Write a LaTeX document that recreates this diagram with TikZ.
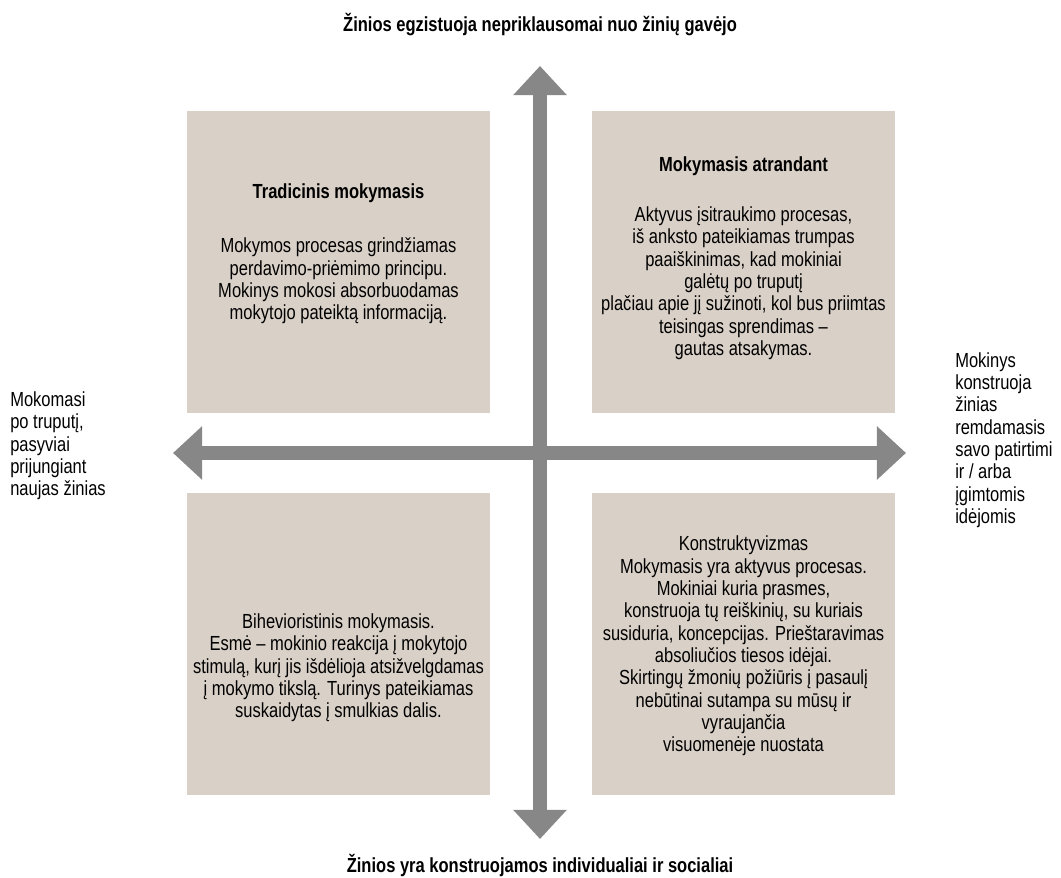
\documentclass[tikz,border=0pt]{standalone}
\usepackage{fontspec}
\setmainfont{Liberation Sans}[FakeStretch=0.81]
\usetikzlibrary{arrows.meta}
\definecolor{boxfill}{RGB}{217,208,199}
\definecolor{axisgray}{RGB}{135,135,135}
\tikzset{
  quad/.style={fill=boxfill,minimum width=7.575cm,minimum height=7.55cm,inner sep=0pt},
  quadtext/.style={align=center,inner sep=0pt,font=\fontsize{14.5pt}{15.9pt}\selectfont},
  sidetext/.style={align=left,inner sep=0pt,anchor=west,font=\fontsize{14.5pt}{15.9pt}\selectfont},
  axis/.style={axisgray,line width=0.35cm,
    {Triangle[length=0.73cm,width=1.3cm]}-{Triangle[length=0.73cm,width=1.3cm]}}
}
\begin{document}
\begin{tikzpicture}[x=0.025cm,y=-0.025cm]
    \useasboundingbox (0,0) rectangle (1061,878);
    \foreach \n/\x/\y in {tl/338.5/262,tr/743.5/262,bl/338.5/644,br/743.5/644}
    \node[quad] (\n) at (\x,\y) {};
    \coordinate (north) at (540,66);
    \coordinate (south) at (540,839);
    \coordinate (west) at (173,453);
    \coordinate (east) at (906,453);
    \draw[axis] (south) -- (north);
    \draw[axis] (west) -- (east);
    \node[quadtext,font=\bfseries\fontsize{14.5pt}{15.9pt}\selectfont] (toptitle) at (540,25)
      {Žinios egzistuoja nepriklausomai nuo žinių gavėjo};
    \node[quadtext,font=\bfseries\fontsize{14.5pt}{15.9pt}\selectfont] (bottomtitle) at (540,865)
      {Žinios yra konstruojamos individualiai ir socialiai};
    \node[quadtext] (tltext) at (338.5,254) {\textbf{Tradicinis mokymasis}\\[0.8cm]
      Mokymos procesas grindžiamas\\
      perdavimo-priėmimo principu.\\
      Mokinys mokosi absorbuodamas\\
      mokytojo pateiktą informaciją.};
    \node[quadtext] (trtext) at (743.5,258) {\textbf{Mokymasis atrandant}\\[0.7cm]
      Aktyvus įsitraukimo procesas,\\
      iš anksto pateikiamas trumpas\\
      paaiškinimas, kad mokiniai\\
      galėtų po truputį\\
      plačiau apie jį sužinoti, kol bus priimtas\\
      teisingas sprendimas –\\
      gautas atsakymas.};
    \node[quadtext] (bltext) at (338.5,668) {Bihevioristinis mokymasis.\\
      Esmė – mokinio reakcija į mokytojo\\
      stimulą, kurį jis išdėlioja atsižvelgdamas\\
      į mokymo tikslą. Turinys pateikiamas\\
      suskaidytas į smulkias dalis.};
    \node[quadtext] (brtext) at (743.5,646) {Konstruktyvizmas\\
      Mokymasis yra aktyvus procesas.\\
      Mokiniai kuria prasmes,\\
      konstruoja tų reiškinių, su kuriais\\
      susiduria, koncepcijas. Prieštaravimas\\
      absoliučios tiesos idėjai.\\
      Skirtingų žmonių požiūris į pasaulį\\
      nebūtinai sutampa su mūsų ir\\
      vyraujančia\\
      visuomenėje nuostata};
    \node[sidetext] (lefttext) at (10,446) {Mokomasi\\po truputį,\\pasyviai\\prijungiant\\naujas žinias};
    \node[sidetext] (righttext) at (955,440) {Mokinys\\konstruoja\\žinias\\remdamasis\\savo patirtimi\\ir / arba\\įgimtomis\\idėjomis};
  \end{tikzpicture}
\end{document}
